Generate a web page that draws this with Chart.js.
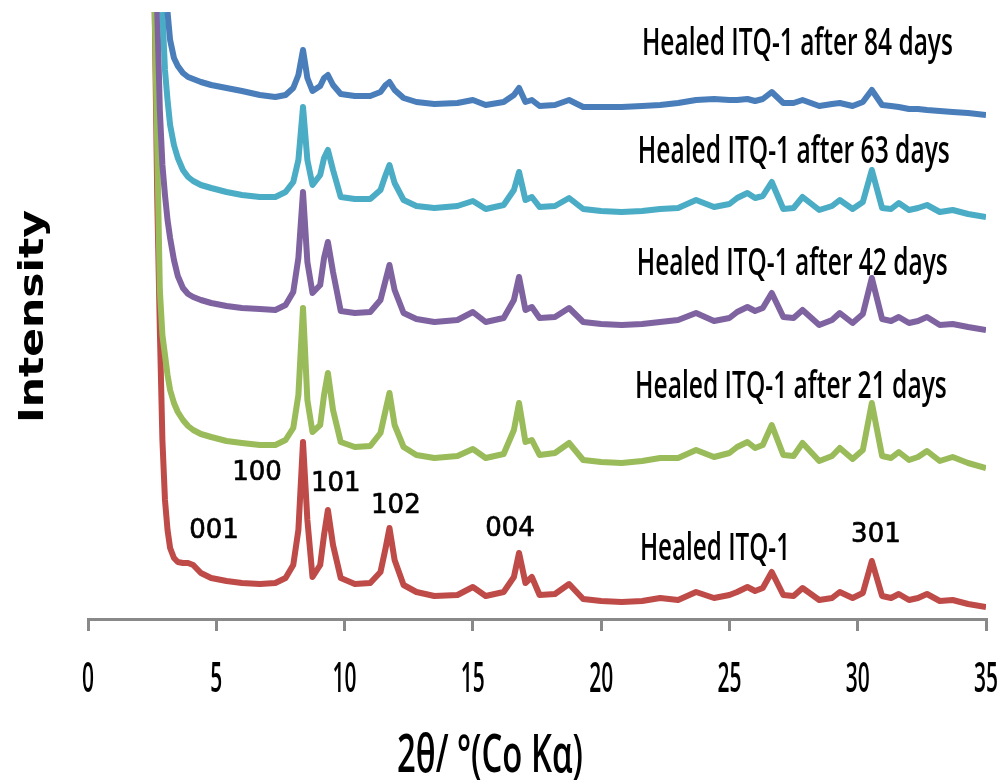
<!DOCTYPE html>
<html>
<head>
<meta charset="utf-8">
<script src="https://cdn.jsdelivr.net/npm/chart.js@4.4.1/dist/chart.umd.min.js"></script>
<style>
  html, body { margin: 0; padding: 0; background: #fff; }
  #wrap { width: 1003px; height: 783px; }
</style>
</head>
<body>
<div id="wrap"><canvas id="xrd" width="1003" height="783"></canvas></div>
<script>
// 2theta grid (degrees, Co K-alpha) shared by all patterns
const twoTheta = [2.5, 2.6, 2.7, 2.8, 2.9, 3.0, 3.1, 3.2, 3.35, 3.5, 3.7, 3.9, 4.1, 4.4, 4.8,
  5.4, 6.0, 6.7, 7.3, 7.7, 8.0, 8.2, 8.38, 8.55, 8.75, 9.05, 9.2, 9.35, 9.55, 9.85,
  10.4, 11.0, 11.4, 11.6, 11.75, 11.95, 12.3, 12.8, 13.5, 14.4, 15.0, 15.5, 16.2, 16.6, 16.8,
  17.05, 17.3, 17.6, 18.2, 18.75, 19.3, 20.0, 20.8, 21.6, 22.3, 23.0, 23.7, 24.4, 25.0, 25.3,
  25.7, 26.0, 26.3, 26.65, 27.1, 27.5, 27.85, 28.5, 29.0, 29.3, 29.8, 30.2, 30.55, 30.95, 31.3,
  31.6, 32.0, 32.35, 32.7, 33.2, 33.7, 34.3, 35.0];

// intensities (arbitrary units, patterns stacked with offsets)
const healed0 = [null, 607, 419, 289, 179, 119, 89, 71, 61, 57, 56, 56, 54, 46, 41,
  38, 36, 35, 36, 41, 54, 89, 177, 99, 42, 54, 84, 109, 74, 41,
  35, 36, 47, 71, 91, 59, 34, 27, 23, 24, 32, 23, 27, 42, 66,
  36, 42, 24, 25, 35, 20, 18, 17, 18, 21, 19, 27, 21, 24, 27,
  32, 28, 31, 47, 24, 23, 31, 19, 21, 27, 21, 26, 58, 23, 21,
  25, 19, 21, 25, 18, 19, 15, 12];
const healed21 = [null, 607, 469, 329, 284, 264, 244, 229, 216, 207, 199, 193, 189, 185, 182,
  178, 176, 174, 174, 179, 191, 224, 311, 219, 187, 194, 224, 246, 209, 177,
  172, 173, 186, 209, 226, 194, 172, 164, 161, 163, 170, 161, 165, 189, 216,
  177, 179, 164, 166, 176, 159, 157, 156, 158, 161, 161, 169, 162, 166, 172,
  177, 171, 174, 194, 164, 163, 176, 158, 163, 171, 160, 169, 216, 163, 161,
  167, 159, 162, 168, 158, 162, 156, 151];
const healed42 = [null, null, 607, 509, 454, 424, 399, 381, 359, 343, 331, 325, 322, 319, 316,
  313, 311, 310, 309, 314, 327, 361, 427, 357, 326, 334, 361, 377, 347, 308,
  306, 307, 319, 339, 354, 329, 306, 300, 297, 299, 307, 297, 301, 319, 342,
  309, 312, 301, 302, 311, 297, 295, 294, 295, 297, 299, 306, 298, 301, 307,
  312, 308, 311, 326, 302, 301, 309, 294, 299, 306, 296, 305, 341, 300, 298,
  302, 296, 298, 302, 294, 295, 292, 289];
const healed63 = [null, null, null, null, 607, 549, 519, 494, 474, 461, 449, 442, 438, 434, 431,
  427, 424, 422, 422, 427, 437, 459, 512, 459, 434, 444, 461, 469, 449, 422,
  420, 420, 429, 444, 454, 436, 419, 413, 411, 413, 418, 410, 414, 429, 447,
  419, 422, 412, 413, 421, 410, 408, 407, 408, 410, 411, 419, 412, 415, 421,
  426, 421, 423, 437, 410, 411, 422, 409, 413, 419, 410, 417, 449, 411, 410,
  416, 409, 411, 414, 407, 409, 405, 402];
const healed84 = [null, null, null, null, null, null, 607, 579, 561, 553, 546, 542, 540, 537, 534,
  531, 528, 524, 522, 524, 531, 544, 569, 541, 528, 533, 541, 544, 534, 525,
  523, 523, 527, 534, 537, 529, 521, 517, 515, 516, 519, 514, 517, 524, 531,
  517, 519, 513, 514, 519, 512, 512, 512, 513, 514, 516, 519, 520, 519, 519,
  520, 518, 520, 527, 516, 516, 519, 513, 515, 516, 513, 517, 529, 514, 513,
  512, 510, 510, 509, 508, 507, 506, 504];

const xTicks = [0, 5, 10, 15, 20, 25, 30, 35];

const seriesNames = ['Healed ITQ-1 after 84 days', 'Healed ITQ-1 after 63 days',
  'Healed ITQ-1 after 42 days', 'Healed ITQ-1 after 21 days', 'Healed ITQ-1'];
const seriesColors = ['#4a7ebb', '#4aacc5', '#7f63a1', '#9abb59', '#be4b48'];
const seriesData = [healed84, healed63, healed42, healed21, healed0];

// label anchors in data units: left 2theta, right 2theta, baseline intensity
const labelFrom = [21.59, 21.43, 21.39, 21.32, 21.51];
const labelTo = [33.71, 33.59, 33.51, 33.47, 27.36];
const labelBase = [564, 456, 344, 221, 59];

// Miller indices and their centres (2theta, intensity)
const hklText = ['100', '101', '102', '001', '004', '301'];
const hklX = [6.59, 9.66, 12.0, 4.91, 16.45, 30.71];
const hklY = [146, 135, 113, 88, 90, 84];

const AXIS_GREY = '#898989';
const NARROW_FONT = '"Open Sans"';

function drawFitted(ctx, text, x, y, width, font) {
    ctx.font = font;
    const w = ctx.measureText(text).width;
    ctx.save();
    ctx.translate(x, y);
    ctx.scale(width / w, 1);
    ctx.textAlign = 'left';
    ctx.textBaseline = 'alphabetic';
    ctx.fillText(text, 0, 0);
    ctx.restore();
}

const annotationPlugin = {
    id: 'xrdText',
    afterDraw(chart) {
        const ctx = chart.ctx;
        const xs = chart.scales.x, ys = chart.scales.y;
        ctx.save();
        ctx.fillStyle = '#000';

        // tick labels of the 2theta axis, condensed like the original
        const tickFont = `600 41px ${NARROW_FONT}`;
        ctx.font = tickFont;
        const digitScale = 12 / ctx.measureText('0').width;
        xs.ticks.forEach((t, i) => {
            const label = String(t.value);
            ctx.font = tickFont;
            const w = ctx.measureText(label).width * digitScale;
            drawFitted(ctx, label, xs.getPixelForTick(i) - w / 2, chart.chartArea.bottom + 73, w, tickFont);
        });

        // series names
        seriesNames.forEach((name, i) => {
            const left = xs.getPixelForValue(labelFrom[i]);
            const right = xs.getPixelForValue(labelTo[i]);
            drawFitted(ctx, name, left, ys.getPixelForValue(labelBase[i]), right - left, `600 38px ${NARROW_FONT}`);
        });

        // hkl reflections
        ctx.font = '26px "DejaVu Sans"';
        ctx.textAlign = 'center';
        ctx.textBaseline = 'middle';
        ctx.strokeStyle = '#000';
        ctx.lineWidth = 0.7;
        hklText.forEach((t, i) => {
            const px = xs.getPixelForValue(hklX[i]), py = ys.getPixelForValue(hklY[i]);
            ctx.fillText(t, px, py);
            ctx.strokeText(t, px, py);
        });

        // axis titles
        drawFitted(ctx, '2θ/ °(Co Kα)', 397, 772, 186, `600 52px ${NARROW_FONT}`);

        ctx.save();
        ctx.translate(43, 423);
        ctx.rotate(-Math.PI / 2);
        drawFitted(ctx, 'Intensity', 0, 0, 213, 'bold 34px "DejaVu Sans"');
        ctx.restore();

        ctx.restore();
    }
};

new Chart(document.getElementById('xrd'), {
    type: 'line',
    data: {
        labels: twoTheta,
        datasets: seriesData.map((d, i) => ({
            label: seriesNames[i],
            data: d.map((v, k) => ({ x: twoTheta[k], y: v })),
            borderColor: seriesColors[i],
            borderWidth: 6,
            pointRadius: 0,
            tension: 0,
            borderJoinStyle: 'round',
            fill: false
        }))
    },
    options: {
        responsive: false,
        animation: false,
        layout: { padding: { left: 88, right: 17, top: 12, bottom: 0 } },
        plugins: { legend: { display: false }, tooltip: { enabled: false } },
        scales: {
            x: {
                type: 'linear',
                min: 0, max: 35,
                afterBuildTicks: (scale) => { scale.ticks = xTicks.map(v => ({ value: v })); },
                afterFit: (scale) => { scale.height = 164; scale.paddingLeft = 0; scale.paddingRight = 0; },
                ticks: { display: false },
                grid: { display: true, drawOnChartArea: false, drawTicks: true, tickLength: 12, color: AXIS_GREY, lineWidth: 3 },
                border: { display: true, color: AXIS_GREY, width: 3 }
            },
            y: {
                display: false,
                min: 0, max: 607
            }
        }
    },
    plugins: [annotationPlugin]
});
</script>
</body>
</html>
